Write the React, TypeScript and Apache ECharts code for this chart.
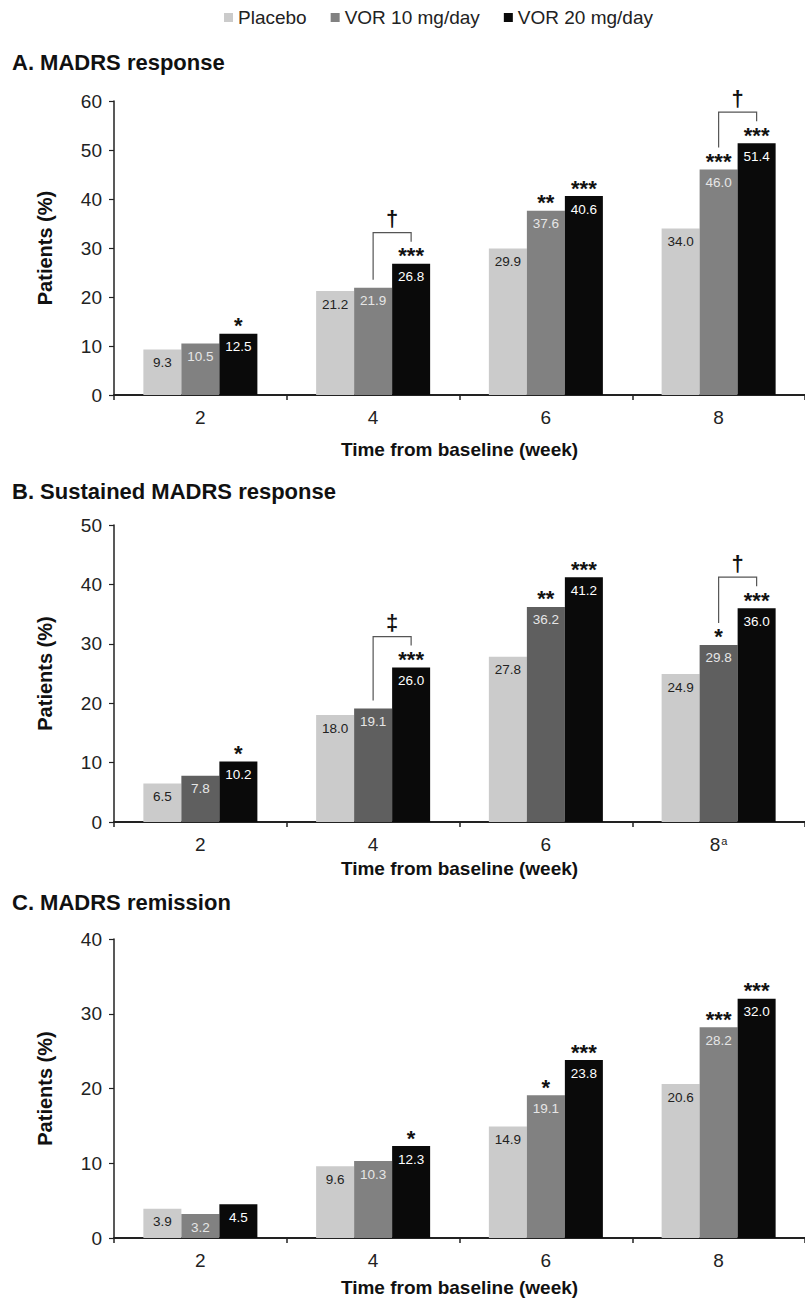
import React, { useEffect, useRef } from "react";
import * as echarts from "echarts";

// ---------- data ----------
const SERIES_NAMES = ["Placebo", "VOR 10 mg/day", "VOR 20 mg/day"];
const WEEKS = ["2", "4", "6", "8"];
const WEEKS_B = ["2", "4", "6", "8a"];

const A_PLACEBO = [9.3, 21.2, 29.9, 34.0];
const A_VOR10 = [10.5, 21.9, 37.6, 46.0];
const A_VOR20 = [12.5, 26.8, 40.6, 51.4];
const A_STARS10 = ["", "", "**", "***"];
const A_STARS20 = ["*", "***", "***", "***"];
const A_BRACKET_WEEKS = [1, 3];
const A_BRACKET_MARKS = ["†", "†"];

const B_PLACEBO = [6.5, 18.0, 27.8, 24.9];
const B_VOR10 = [7.8, 19.1, 36.2, 29.8];
const B_VOR20 = [10.2, 26.0, 41.2, 36.0];
const B_STARS10 = ["", "", "**", "*"];
const B_STARS20 = ["*", "***", "***", "***"];
const B_BRACKET_WEEKS = [1, 3];
const B_BRACKET_MARKS = ["‡", "†"];

const C_PLACEBO = [3.9, 9.6, 14.9, 20.6];
const C_VOR10 = [3.2, 10.3, 19.1, 28.2];
const C_VOR20 = [4.5, 12.3, 23.8, 32.0];
const C_STARS10 = ["", "", "*", "***"];
const C_STARS20 = ["", "*", "***", "***"];
const C_BRACKET_WEEKS: number[] = [];
const C_BRACKET_MARKS: string[] = [];

const Y_MAX = [60, 50, 40];
const TITLES = ["A. MADRS response", "B. Sustained MADRS response", "C. MADRS remission"];
const X_TITLE = "Time from baseline (week)";
const Y_TITLE = "Patients (%)";

// ---------- styles / layout ----------
const FONT = "Liberation Sans, Arial, Helvetica, sans-serif";
const BAR_FRACTION = 0.22;
const COLORS_PLACEBO = "#cbcbcb";
const COLORS_20 = "#0a0a0a";
const COLORS_10 = ["#818181", "#5f5f5f", "#818181"];
const LABEL_COLORS = ["#222222", "#e6e6e6", "#ffffff"];

const LAYOUT = [
  { top: 101, height: 294, titleTop: 51, nameGap: 45 },
  { top: 525, height: 297, titleTop: 480, nameGap: 37 },
  { top: 939, height: 299, titleTop: 891, nameGap: 40 },
];
const GRID_LEFT = 114;
const GRID_WIDTH = 700;

type Ann =
  | { kind: "stars"; cat: number; slot: number; value: number; text: string }
  | {
      kind: "bracket";
      cat: number;
      left: number;
      right: number;
      leftStars: boolean;
      rightStars: boolean;
      text: string;
    };

function buildAnnotations(
  v10: number[],
  v20: number[],
  s10: string[],
  s20: string[],
  bw: number[],
  bm: string[]
): Ann[] {
  const list: Ann[] = [];
  s10.forEach((t, i) => {
    if (t) list.push({ kind: "stars", cat: i, slot: 1, value: v10[i], text: t });
  });
  s20.forEach((t, i) => {
    if (t) list.push({ kind: "stars", cat: i, slot: 2, value: v20[i], text: t });
  });
  bw.forEach((c, j) => {
    list.push({
      kind: "bracket",
      cat: c,
      left: v10[c],
      right: v20[c],
      leftStars: !!s10[c],
      rightStars: !!s20[c],
      text: bm[j],
    });
  });
  return list;
}

const PANELS = [
  {
    cats: WEEKS,
    values: [A_PLACEBO, A_VOR10, A_VOR20],
    ann: buildAnnotations(A_VOR10, A_VOR20, A_STARS10, A_STARS20, A_BRACKET_WEEKS, A_BRACKET_MARKS),
  },
  {
    cats: WEEKS_B,
    values: [B_PLACEBO, B_VOR10, B_VOR20],
    ann: buildAnnotations(B_VOR10, B_VOR20, B_STARS10, B_STARS20, B_BRACKET_WEEKS, B_BRACKET_MARKS),
  },
  {
    cats: WEEKS,
    values: [C_PLACEBO, C_VOR10, C_VOR20],
    ann: buildAnnotations(C_VOR10, C_VOR20, C_STARS10, C_STARS20, C_BRACKET_WEEKS, C_BRACKET_MARKS),
  },
];

function buildOption() {
  const grid: any[] = [];
  const xAxis: any[] = [];
  const yAxis: any[] = [];
  const series: any[] = [];
  const title: any[] = [];

  PANELS.forEach((p, pi) => {
    const L = LAYOUT[pi];
    grid.push({ left: GRID_LEFT, top: L.top, width: GRID_WIDTH, height: L.height });
    title.push({
      text: TITLES[pi],
      left: 12,
      top: L.titleTop,
      padding: 0,
      textStyle: { fontFamily: FONT, fontSize: 22, fontWeight: "bold", color: "#111" },
    });
    xAxis.push({
      type: "category",
      gridIndex: pi,
      data: p.cats,
      name: X_TITLE,
      nameLocation: "middle",
      nameGap: L.nameGap,
      nameTextStyle: { fontFamily: FONT, fontSize: 19, fontWeight: "bold", color: "#111" },
      axisLine: { show: true, lineStyle: { color: "#222", width: 2 } },
      axisTick: { show: true, length: 5, lineStyle: { color: "#222", width: 1.5 } },
      axisLabel: {
        fontFamily: FONT,
        fontSize: 19,
        color: "#222",
        margin: 13,
        formatter: (v: string) => (v.endsWith("a") ? v.slice(0, -1) + "{sup|a}" : v),
        rich: { sup: { fontFamily: FONT, fontSize: 11, color: "#222", verticalAlign: "top", padding: [0, 0, 8, 1] } },
      },
      splitLine: { show: false },
    });
    yAxis.push({
      type: "value",
      gridIndex: pi,
      min: 0,
      max: Y_MAX[pi],
      interval: 10,
      name: Y_TITLE,
      nameLocation: "middle",
      nameGap: 59,
      nameTextStyle: { fontFamily: FONT, fontSize: 20, fontWeight: "bold", color: "#111" },
      axisLine: { show: true, lineStyle: { color: "#222", width: 1.5 } },
      axisTick: { show: true, length: 5, lineStyle: { color: "#222", width: 1.2 } },
      axisLabel: { fontFamily: FONT, fontSize: 19, color: "#222", margin: 12 },
      splitLine: { show: false },
    });
    const colors = [COLORS_PLACEBO, COLORS_10[pi], COLORS_20];
    p.values.forEach((vals, si) => {
      series.push({
        type: "bar",
        name: SERIES_NAMES[si],
        xAxisIndex: pi,
        yAxisIndex: pi,
        data: vals,
        barWidth: BAR_FRACTION * 100 + "%",
        barGap: "0%",
        itemStyle: { color: colors[si] },
        label: {
          show: true,
          position: "insideTop",
          distance: 6,
          fontFamily: FONT,
          fontSize: 13.5,
          color: LABEL_COLORS[si],
          formatter: (d: any) => Number(d.value).toFixed(1),
        },
      });
    });
    const ann = p.ann;
    series.push({
      type: "custom",
      xAxisIndex: pi,
      yAxisIndex: pi,
      silent: true,
      z: 10,
      clip: false,
      data: ann.map((a) => [a.cat, a.kind === "stars" ? a.value : a.right]),
      renderItem: (params: any, api: any) => {
        const a = ann[params.dataIndex];
        const band = api.size([1, 0])[0];
        const bw = band * BAR_FRACTION;
        if (a.kind === "stars") {
          const pt = api.coord([a.cat, a.value]);
          return {
            type: "text",
            x: pt[0] + (a.slot - 1) * bw,
            y: pt[1] - 8,
            style: {
              text: a.text,
              fill: "#111",
              font: "bold 22px " + FONT,
              align: "center",
              verticalAlign: "middle",
            },
          };
        }
        const pl = api.coord([a.cat, a.left]);
        const pr = api.coord([a.cat, a.right]);
        const xl = pl[0];
        const xr = pr[0] + bw;
        const yl = pl[1] - (a.leftStars ? 22 : 8);
        const yr = pr[1] - (a.rightStars ? 22 : 8);
        const yh = Math.min(pl[1], pr[1]) - 31;
        return {
          type: "group",
          children: [
            {
              type: "polyline",
              shape: { points: [[xl, yl], [xl, yh], [xr, yh], [xr, yr]] },
              style: { stroke: "#555", lineWidth: 1.2, fill: null },
            },
            {
              type: "text",
              x: (xl + xr) / 2,
              y: yh - 14,
              style: {
                text: a.text,
                fill: "#111",
                font: "bold 22px " + FONT,
                align: "center",
                verticalAlign: "middle",
              },
            },
          ],
        };
      },
    });
  });

  return {
    animation: false,
    backgroundColor: "#ffffff",
    title,
    legend: {
      data: SERIES_NAMES,
      left: 224,
      top: 8,
      padding: 0,
      icon: "rect",
      itemWidth: 9,
      itemHeight: 9,
      itemGap: 24,
      selectedMode: false,
      textStyle: { fontFamily: FONT, fontSize: 19, color: "#222" },
    },
    grid,
    xAxis,
    yAxis,
    series,
  };
}

export default function App() {
  const ref = useRef<HTMLDivElement>(null);
  useEffect(() => {
    if (!ref.current) return;
    const chart = echarts.init(ref.current, undefined, { renderer: "svg" });
    chart.setOption(buildOption() as any);
    return () => chart.dispose();
  }, []);
  return (
    <div
      ref={ref}
      style={{ position: "absolute", left: 0, top: 0, width: 805, height: 1298, background: "#fff" }}
    />
  );
}
